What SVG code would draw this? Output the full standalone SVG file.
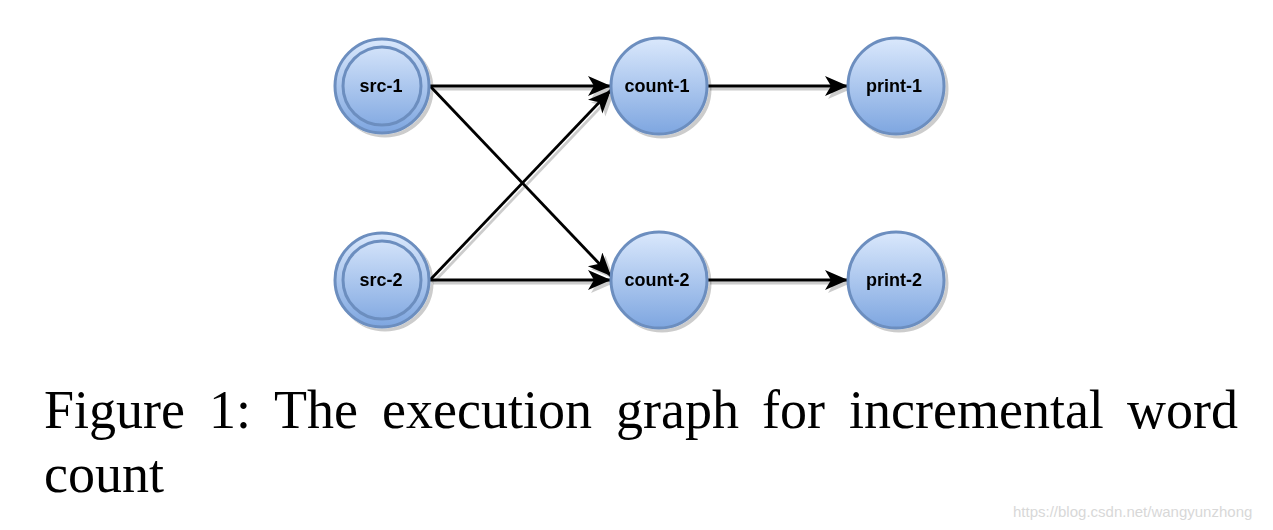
<svg xmlns="http://www.w3.org/2000/svg" width="1273" height="530" viewBox="0 0 1273 530">
  <defs>
    <linearGradient id="fillGrad" x1="0" y1="0" x2="0" y2="1">
      <stop offset="0" stop-color="#dae8fc"/>
      <stop offset="1" stop-color="#7ea6e0"/>
    </linearGradient>
    <filter id="shadow" x="-20%" y="-20%" width="140%" height="140%">
      <feOffset in="SourceAlpha" dx="3" dy="3" result="off"/>
      <feFlood flood-color="#000" flood-opacity="0.2"/>
      <feComposite in2="off" operator="in" result="sh"/>
      <feMerge><feMergeNode in="sh"/><feMergeNode in="SourceGraphic"/></feMerge>
    </filter>
    <marker id="arrow" markerUnits="userSpaceOnUse" markerWidth="26" markerHeight="22" refX="23" refY="10" orient="auto">
      <path d="M0,0 L23,10 L0,20 L6,10 Z" fill="#000"/>
    </marker>
  </defs>
  <style>
    .node circle { fill: url(#fillGrad); stroke: #6c8ebf; stroke-width: 3; }
    .node circle.inner { fill: none; }
    .node text { font-family: "Liberation Sans", Arial, sans-serif; font-weight: bold; font-size: 18px; fill: #000; text-anchor: middle; dominant-baseline: central; }
    .edge { stroke: #000; stroke-width: 2.8; fill: none; marker-end: url(#arrow); }
    .cap { font-family: "Liberation Serif", "Times New Roman", serif; font-size: 54px; fill: #000; }
    .wm { font-family: "Liberation Sans", Arial, sans-serif; font-size: 15px; fill: #d8d8d8; }
  </style>

  <g id="connectors" filter="url(#shadow)">
    <line class="edge" x1="430" y1="86" x2="611" y2="86"/>
    <line class="edge" x1="430" y1="86" x2="611" y2="276"/>
    <line class="edge" x1="430" y1="280" x2="611" y2="90"/>
    <line class="edge" x1="430" y1="280" x2="611" y2="280"/>
    <line class="edge" x1="707" y1="86" x2="848" y2="86"/>
    <line class="edge" x1="707" y1="280" x2="848" y2="280"/>
  </g>

  <g id="src-1" class="node" filter="url(#shadow)">
    <circle cx="382" cy="86" r="47"/>
    <circle class="inner" cx="382" cy="86" r="39"/>
    <text x="381" y="86">src-1</text>
  </g>
  <g id="src-2" class="node" filter="url(#shadow)">
    <circle cx="382" cy="280" r="47"/>
    <circle class="inner" cx="382" cy="280" r="39"/>
    <text x="381" y="280">src-2</text>
  </g>
  <g id="count-1" class="node" filter="url(#shadow)">
    <circle cx="659" cy="86" r="48"/>
    <text x="657" y="86">count-1</text>
  </g>
  <g id="count-2" class="node" filter="url(#shadow)">
    <circle cx="659" cy="280" r="48"/>
    <text x="657" y="280">count-2</text>
  </g>
  <g id="print-1" class="node" filter="url(#shadow)">
    <circle cx="896" cy="86" r="48"/>
    <text x="894" y="86">print-1</text>
  </g>
  <g id="print-2" class="node" filter="url(#shadow)">
    <circle cx="896" cy="280" r="48"/>
    <text x="894" y="280">print-2</text>
  </g>

  <g id="caption">
    <text class="cap" x="44" y="428">Figure</text>
    <text class="cap" x="209" y="428">1:</text>
    <text class="cap" x="274" y="428">The</text>
    <text class="cap" x="382" y="428">execution</text>
    <text class="cap" x="616" y="428">graph</text>
    <text class="cap" x="762" y="428">for</text>
    <text class="cap" x="849" y="428">incremental</text>
    <text class="cap" x="1238" y="428" text-anchor="end">word</text>
    <text class="cap" x="44" y="492">count</text>
  </g>
  <text class="wm" x="1013" y="517">https://blog.csdn.net/wangyunzhong</text>
</svg>
